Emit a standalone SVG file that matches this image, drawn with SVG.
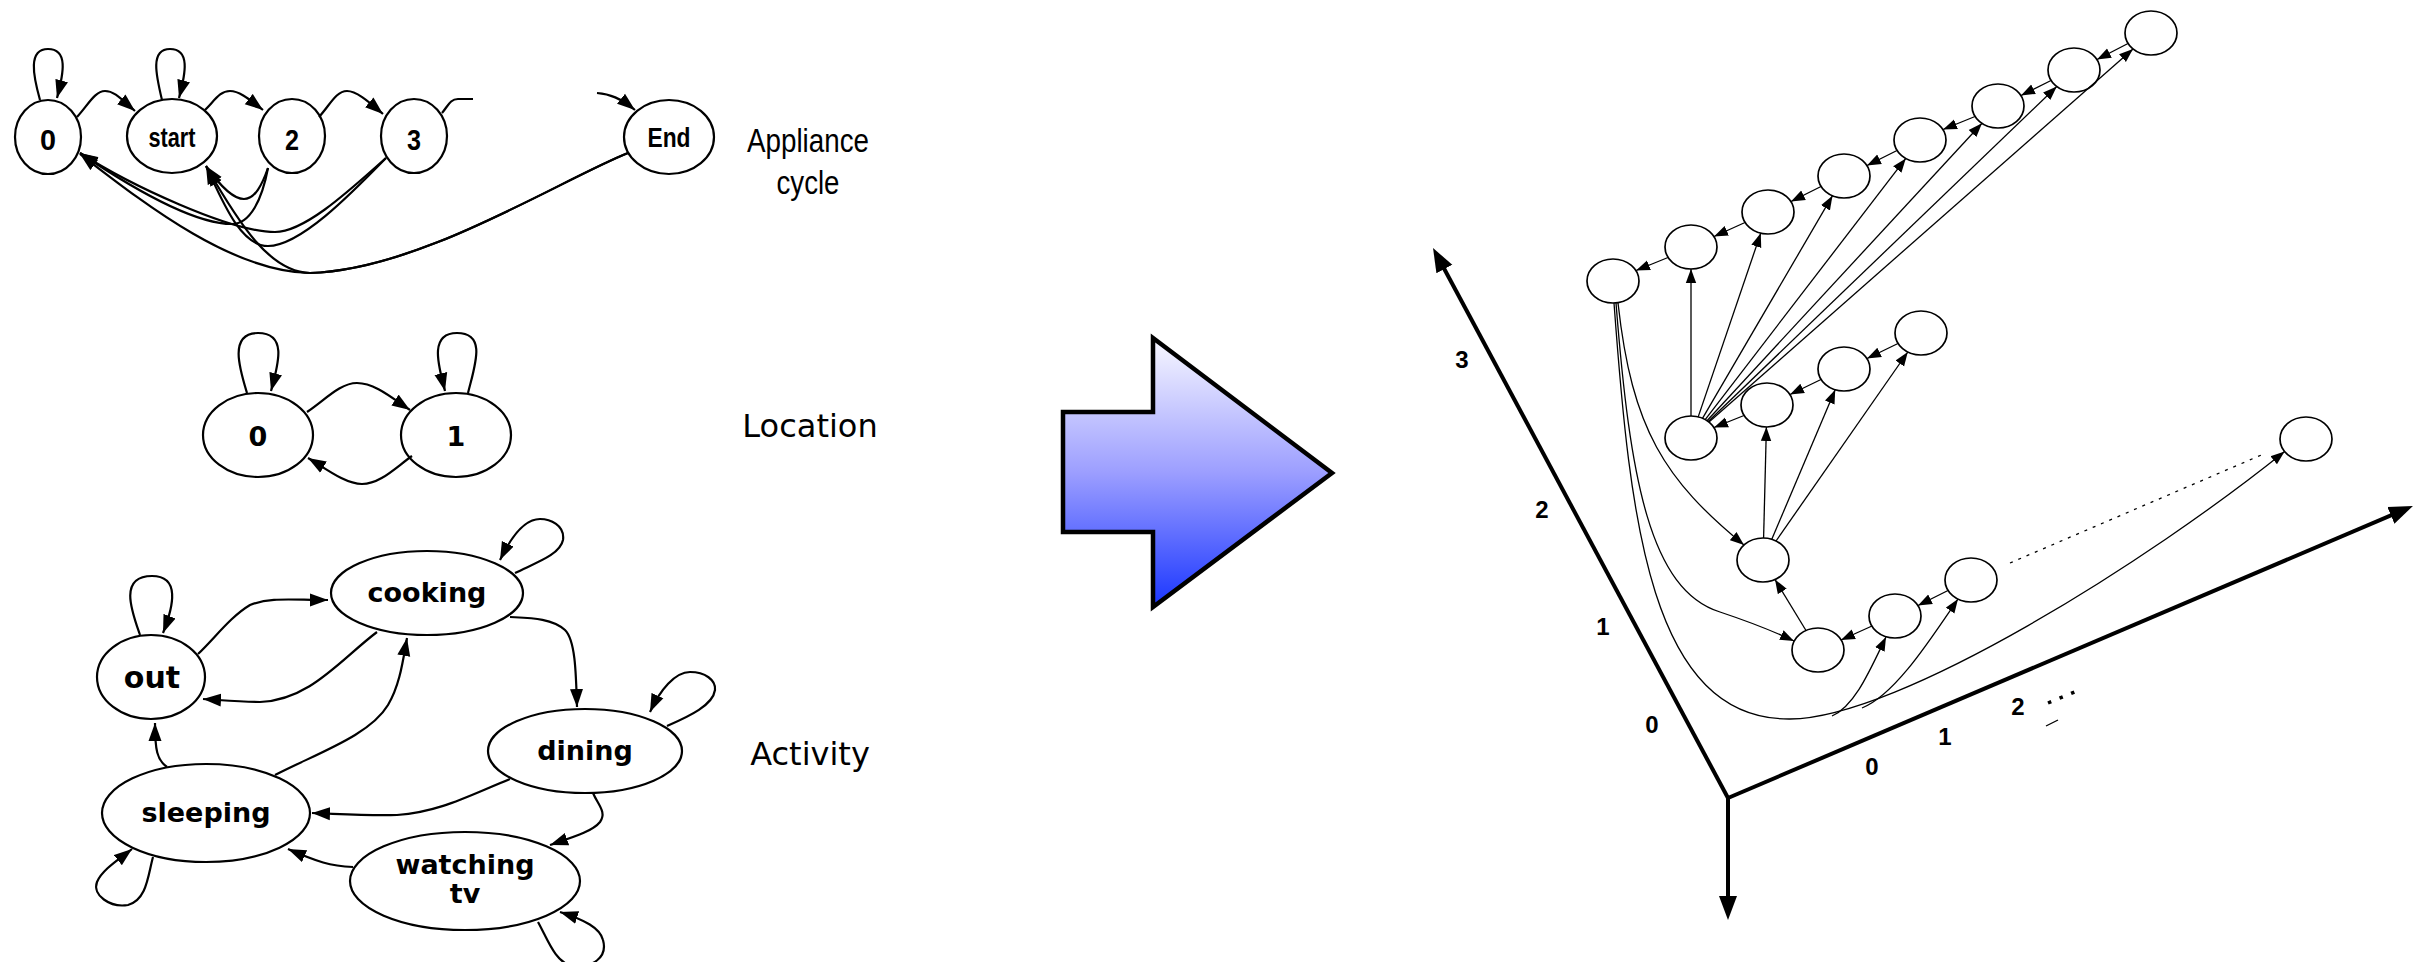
<svg xmlns="http://www.w3.org/2000/svg" width="2424" height="962" viewBox="0 0 2424 962">
<style>
.n{fill:#fff;stroke:#000;stroke-width:2.2}
.e{fill:none;stroke:#000;stroke-width:2.2;marker-end:url(#ah)}
.ep{fill:none;stroke:#000;stroke-width:2.2}
.n3{fill:#fff;stroke:#000;stroke-width:1.7}
.t{fill:none;stroke:#000;stroke-width:1.3;marker-end:url(#ahs)}
.tp{fill:none;stroke:#000;stroke-width:1.3}
.ax{fill:none;stroke:#000;stroke-width:4;marker-end:url(#aha)}
.nar{font-family:"Liberation Sans",Arial,sans-serif;font-weight:bold;text-anchor:middle}
.dv{font-family:"DejaVu Sans",Verdana,sans-serif;font-weight:bold;font-size:27px;text-anchor:middle}
.lab{font-family:"DejaVu Sans",Verdana,sans-serif;font-size:32px;text-anchor:middle}
.axl{font-family:"Liberation Sans",Arial,sans-serif;font-weight:bold;font-size:24px;text-anchor:middle}
</style>
<defs>
<marker id="ah" markerUnits="userSpaceOnUse" markerWidth="20" markerHeight="14" viewBox="0 0 20 14" refX="18" refY="7" orient="auto"><path d="M0,0.5 L18,7 L0,13.5 z" fill="#000"/></marker>
<marker id="ahs" markerUnits="userSpaceOnUse" markerWidth="16" markerHeight="12" viewBox="0 0 16 12" refX="14" refY="6" orient="auto"><path d="M0,0.8 L14,6 L0,11.2 z" fill="#000"/></marker>
<marker id="aha" markerUnits="userSpaceOnUse" markerWidth="26" markerHeight="20" viewBox="0 0 26 20" refX="16" refY="10" orient="auto"><path d="M0,1 L24,10 L0,19 z" fill="#000"/></marker>
<linearGradient id="bg" gradientUnits="userSpaceOnUse" x1="0" y1="338" x2="0" y2="607"><stop offset="0" stop-color="#f8f8ff"/><stop offset="0.5" stop-color="#9c9eff"/><stop offset="1" stop-color="#1a36ff"/></linearGradient>
</defs>

<!-- Appliance cycle nodes -->
<g id="app-0"><ellipse class="n" cx="48" cy="137" rx="33" ry="37"/><text class="nar" x="48" y="150" font-size="30" textLength="16" lengthAdjust="spacingAndGlyphs">0</text></g>
<g id="app-start"><ellipse class="n" cx="172" cy="136" rx="45" ry="37"/><text class="nar" x="172" y="147" font-size="28" textLength="47" lengthAdjust="spacingAndGlyphs">start</text></g>
<g id="app-2"><ellipse class="n" cx="292" cy="136" rx="33" ry="37"/><text class="nar" x="292" y="150" font-size="30" textLength="14" lengthAdjust="spacingAndGlyphs">2</text></g>
<g id="app-3"><ellipse class="n" cx="414" cy="136" rx="33" ry="37"/><text class="nar" x="414" y="150" font-size="30" textLength="14" lengthAdjust="spacingAndGlyphs">3</text></g>
<g id="app-end"><ellipse class="n" cx="669" cy="137" rx="45" ry="37"/><text class="nar" x="669" y="147" font-size="28" textLength="43" lengthAdjust="spacingAndGlyphs">End</text></g>
<g id="label-appliance"><text x="808" y="152" font-family="Liberation Sans, Arial, sans-serif" font-size="33" text-anchor="middle" textLength="122" lengthAdjust="spacingAndGlyphs">Appliance</text><text x="808" y="194" font-family="Liberation Sans, Arial, sans-serif" font-size="33" text-anchor="middle" textLength="63" lengthAdjust="spacingAndGlyphs">cycle</text></g>

<!-- Location nodes -->
<g id="loc-0"><ellipse class="n" cx="258" cy="435" rx="55" ry="42"/><text class="dv" x="258" y="446" font-size="26">0</text></g>
<g id="loc-1"><ellipse class="n" cx="456" cy="435" rx="55" ry="42"/><text class="dv" x="456" y="446" font-size="26">1</text></g>
<g id="label-location"><text class="lab" x="810" y="437">Location</text></g>

<!-- Activity nodes -->
<g id="act-out"><ellipse class="n" cx="151" cy="677" rx="54" ry="42"/><text class="dv" x="152" y="688" style="font-size:30px">out</text></g>
<g id="act-cooking"><ellipse class="n" cx="427" cy="593" rx="96" ry="42"/><text class="dv" x="427" y="602">cooking</text></g>
<g id="act-dining"><ellipse class="n" cx="585" cy="751" rx="97" ry="42"/><text class="dv" x="585" y="760">dining</text></g>
<g id="act-sleeping"><ellipse class="n" cx="206" cy="813" rx="104" ry="49"/><text class="dv" x="206" y="822">sleeping</text></g>
<g id="act-watching"><ellipse class="n" cx="465" cy="881" rx="115" ry="49"/><text class="dv" x="465" y="874">watching</text><text class="dv" x="465" y="903">tv</text></g>
<g id="label-activity"><text class="lab" x="810" y="765">Activity</text></g>

<!-- Big transform arrow -->
<g id="big-arrow"><polygon points="1063,412 1153,412 1153,338 1332,473 1153,607 1153,532 1063,532" fill="url(#bg)" stroke="#000" stroke-width="4.5"/></g>

<!-- 3D graph nodes -->
<g id="u0"><ellipse class="n3" cx="1613" cy="281" rx="26" ry="22"/></g>
<g id="u1"><ellipse class="n3" cx="1691" cy="247" rx="26" ry="22"/></g>
<g id="u2"><ellipse class="n3" cx="1768" cy="212" rx="26" ry="22"/></g>
<g id="u3"><ellipse class="n3" cx="1844" cy="176" rx="26" ry="22"/></g>
<g id="u4"><ellipse class="n3" cx="1920" cy="140" rx="26" ry="22"/></g>
<g id="u5"><ellipse class="n3" cx="1998" cy="106" rx="26" ry="22"/></g>
<g id="u6"><ellipse class="n3" cx="2074" cy="70" rx="26" ry="22"/></g>
<g id="u7"><ellipse class="n3" cx="2151" cy="33" rx="26" ry="22"/></g>
<g id="m0"><ellipse class="n3" cx="1691" cy="438" rx="26" ry="22"/></g>
<g id="m1"><ellipse class="n3" cx="1767" cy="405" rx="26" ry="22"/></g>
<g id="m2"><ellipse class="n3" cx="1844" cy="369" rx="26" ry="22"/></g>
<g id="m3"><ellipse class="n3" cx="1921" cy="333" rx="26" ry="22"/></g>
<g id="l0"><ellipse class="n3" cx="1763" cy="560" rx="26" ry="22"/></g>
<g id="l1"><ellipse class="n3" cx="1818" cy="650" rx="26" ry="22"/></g>
<g id="l2"><ellipse class="n3" cx="1895" cy="616" rx="26" ry="22"/></g>
<g id="l3"><ellipse class="n3" cx="1971" cy="580" rx="26" ry="22"/></g>
<g id="far"><ellipse class="n3" cx="2306" cy="439" rx="26" ry="22"/></g>

<!-- Axes -->
<g id="axes">
<path class="ax" d="M1728,798 L1728,912"/>
<path class="ax" d="M1728,798 L1436.8,255"/>
<path class="ax" d="M1728,798 L2405.6,509.1"/>
<text class="axl" x="1462" y="368">3</text>
<text class="axl" x="1542" y="518">2</text>
<text class="axl" x="1603" y="635">1</text>
<text class="axl" x="1652" y="733">0</text>
<text class="axl" x="1872" y="775">0</text>
<text class="axl" x="1945" y="745">1</text>
<text class="axl" x="2018" y="715">2</text>
<path d="M2048,703 L2077,691" fill="none" stroke="#000" stroke-width="3.5" stroke-dasharray="3.5,9"/>
<path d="M2046,726 L2058,720" fill="none" stroke="#000" stroke-width="1.3"/>
</g>

<g id="connectors">
<!-- appliance -->
<path class="e" d="M40,100 C33,75 28,49 48,49 C68,49 64,72 57,98"/>
<path class="e" d="M162,100 C156,75 150,49 170,49 C190,49 186,72 179,98"/>
<path class="e" d="M77,117 C88,105 95,91 105,91 C115,91 122,100 135,111"/>
<path class="e" d="M205,110 C215,100 220,91 230,91 C240,91 250,100 263,110"/>
<path class="e" d="M319,117 C330,105 336,91 347,91 C357,91 370,103 383,114"/>
<path class="ep" d="M442,113 C448,106 450,99 458,99 L473,99"/>
<path class="e" d="M597,93 C610,94 620,98 635,110"/>
<path class="e" d="M268,168 C262,185 255,199 244,199 C232,199 218,183 206,166"/>
<path class="e" d="M268,168 C262,200 250,224 232,224 C190,224 120,180 80,153"/>
<path class="e" d="M386,158 C350,190 305,232 275,232 C230,232 130,185 80,153"/>
<path class="e" d="M386,158 C350,195 300,246 268,246 C240,246 222,200 206,166"/>
<path class="e" d="M628,153 C560,180 420,270 310,273 C230,272 140,200 80,154"/>
<path class="e" d="M628,153 C560,180 420,270 310,273 C270,272 240,225 207,168"/>
<!-- location -->
<path class="e" d="M247,393 C240,370 228,333 258,333 C288,333 278,365 271,391"/>
<path class="e" d="M468,393 C475,365 487,333 457,333 C427,333 440,370 445,391"/>
<path class="e" d="M307,412 C325,400 340,383 357,383 C375,383 392,398 410,410"/>
<path class="e" d="M412,456 C395,468 380,484 362,484 C345,484 325,468 308,458"/>
<!-- activity -->
<path class="e" d="M140,635 C132,612 118,576 152,576 C180,576 174,605 163,633"/>
<path class="e" d="M198,654 C215,638 230,617 250,605 C270,597 290,600 328,600"/>
<path class="e" d="M377,632 C340,660 310,700 260,702 C240,702 220,700 203,699"/>
<path class="e" d="M167,767 C157,760 155,750 155,723"/>
<path class="e" d="M275,775 C320,752 370,735 388,705 C400,685 403,660 407,638"/>
<path class="e" d="M153,857 C148,875 147,900 128,905 C110,908 92,895 97,882 C102,870 118,860 132,849"/>
<path class="e" d="M510,779 C470,795 440,812 397,815 C370,816 340,814 312,813"/>
<path class="e" d="M353,867 C330,866 318,862 288,849"/>
<path class="e" d="M510,617 C530,618 552,618 565,630 C575,640 576,670 577,707"/>
<path class="e" d="M515,573 C535,563 560,555 563,540 C565,525 550,519 540,519 C525,519 512,535 500,560"/>
<path class="e" d="M667,726 C690,716 713,705 715,690 C716,680 705,672 690,672 C675,672 660,690 650,712"/>
<path class="e" d="M593,793 C598,805 607,812 600,822 C592,832 570,838 550,845"/>
<path class="e" d="M538,922 C548,940 555,962 572,966 C592,968 608,958 603,940 C600,928 585,920 560,912"/>
<!-- 3D chains -->
<path class="t" d="M1668,257.5 L1636,270.5"/>
<path class="t" d="M1745,222.5 L1714,236.5"/>
<path class="t" d="M1821,186.5 L1791,201.5"/>
<path class="t" d="M1897,150.5 L1867,165.5"/>
<path class="t" d="M1975,116.5 L1943,129.5"/>
<path class="t" d="M2051,80.5 L2021,95.5"/>
<path class="t" d="M2128,43.5 L2097,59.5"/>
<path class="t" d="M1744,415.5 L1714,427.5"/>
<path class="t" d="M1821,379.5 L1790,394.5"/>
<path class="t" d="M1898,343.5 L1867,358.5"/>
<path class="t" d="M1872,626 L1841,640"/>
<path class="t" d="M1948,590.5 L1918,605.5"/>
<path class="t" d="M1806,630.5 L1775,579.5"/>
<path class="t" d="M1763.6,538 L1766.4,427"/>
<path class="t" d="M1771.8,539.3 L1835.2,389.7"/>
<path class="t" d="M1776,541 L1907.8,352"/>
<!-- fan from m0 -->
<path class="t" d="M1691,416 L1691,269"/>
<path class="t" d="M1698.2,416.9 L1760.8,233.1"/>
<path class="t" d="M1702.5,418.3 L1832.5,195.7"/>
<path class="t" d="M1705.2,419.6 L1905.8,158.4"/>
<path class="t" d="M1707,420.7 L1982,123.3"/>
<path class="t" d="M1708.2,421.5 L2056.8,86.5"/>
<path class="t" d="M1709,422.1 L2133,48.9"/>
<!-- curves from u0 -->
<path class="t" d="M1618,303 C1632,430 1665,480 1744,545"/>
<path class="t" d="M1616,303 C1630,480 1650,590 1720,612 C1750,622 1775,632 1794,641"/>
<path class="t" d="M1614,303 C1630,520 1650,720 1790,719 C1900,718 2150,560 2284.6,451.5"/>
<path class="t" d="M1832,716 C1855,706 1870,670 1886,637"/>
<path class="t" d="M1862,708 C1895,695 1930,640 1958,599"/>
<path d="M2010,563 L2266,453" fill="none" stroke="#000" stroke-width="1.3" stroke-dasharray="3,6"/>
</g>
</svg>
